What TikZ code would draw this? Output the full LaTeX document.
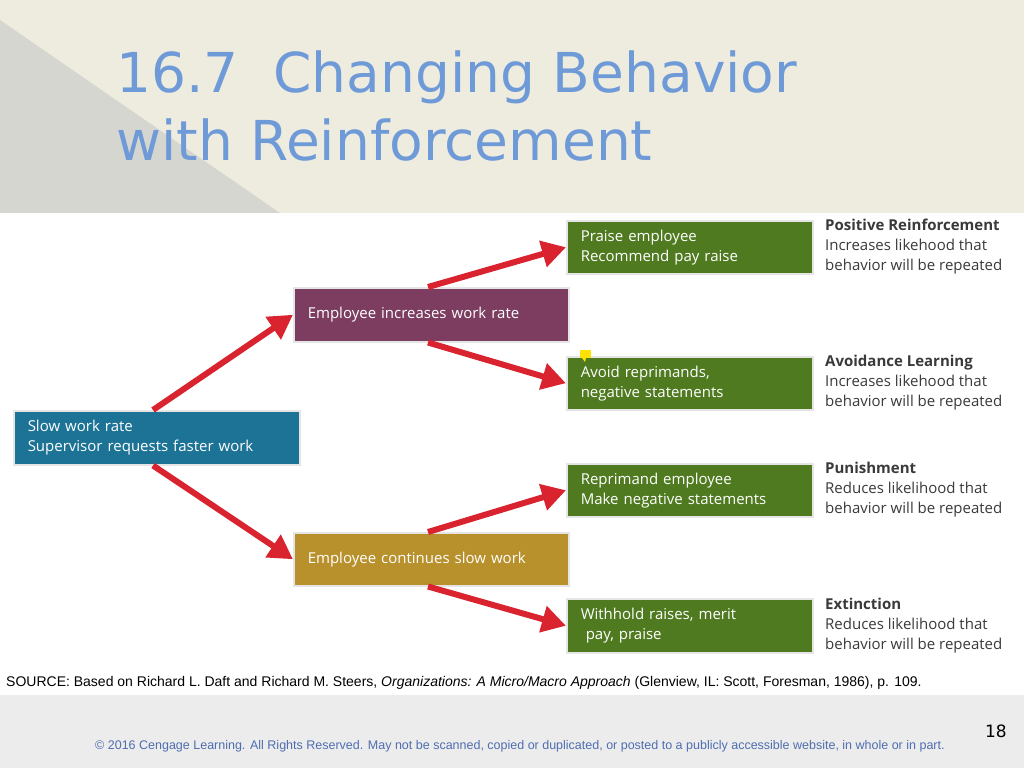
\documentclass[tikz,border=0pt]{standalone}
\usepackage{fontspec}
\setmainfont{Open Sans}
\newfontfamily\titlefont{DejaVu Sans}
\newfontfamily\footfont{Liberation Sans}
\usetikzlibrary{arrows.meta}
\definecolor{bg}{HTML}{EEECDF}
\definecolor{tri}{HTML}{D6D6D0}
\definecolor{titleblue}{HTML}{6F9AD8}
\definecolor{bluebox}{HTML}{1C7396}
\definecolor{purplebox}{HTML}{7C3D60}
\definecolor{goldbox}{HTML}{B8902C}
\definecolor{greenbox}{HTML}{4F7A20}
\definecolor{arrowred}{HTML}{D9232E}
\definecolor{labgray}{HTML}{3A3A3A}
\definecolor{footblue}{HTML}{4F6EB0}
\begin{document}
\begin{tikzpicture}[x=1pt,y=-1pt,
  box/.style={draw=white!80!gray,line width=1.5pt,text=white,anchor=north west,inner sep=0pt,inner xsep=14pt,font=\fontsize{15}{20}\selectfont,align=left},
  arr/.style={draw=arrowred,line width=6pt,-{Triangle[length=24pt,width=26pt]}},
  lab/.style={anchor=north west,align=left,text=labgray,font=\fontsize{15}{20}\selectfont,inner sep=0pt}]
\useasboundingbox (0,0) rectangle (1024,768);
\fill[bg] (0,0) rectangle (1024,768);
\fill[tri] (0,20) -- (0,213) -- (280,213) -- cycle;
\fill[gray!15] (0,695) rectangle (1024,768);
\fill[white] (0,213) rectangle (1024,695);
\node[anchor=north west,text=titleblue,font=\titlefont\fontsize{55}{68}\selectfont,align=left,inner sep=0pt] (title) at (116,51) {16.7\ \ Changing Behavior\\with Reinforcement};
% boxes
\node[box,fill=bluebox,minimum width=286pt,minimum height=54pt,text width=258pt] (slow) at (13,410) {Slow work rate\\Supervisor requests faster work};
\node[box,fill=purplebox,minimum width=275pt,minimum height=54pt,text width=247pt] (inc) at (293,287) {Employee increases work rate};
\node[box,fill=goldbox,minimum width=275pt,minimum height=53pt,text width=247pt] (cont) at (293,532) {Employee continues slow work};
\node[box,fill=greenbox,minimum width=246pt,minimum height=53pt,text width=218pt] (g1) at (566,220) {Praise employee\\Recommend pay raise};
\node[box,fill=greenbox,minimum width=246pt,minimum height=53pt,text width=218pt] (g2) at (566,356) {Avoid reprimands,\\negative statements};
\node[box,fill=greenbox,minimum width=246pt,minimum height=53pt,text width=218pt] (g3) at (566,463) {Reprimand employee\\Make negative statements};
\node[box,fill=greenbox,minimum width=246pt,minimum height=54pt,text width=218pt] (g4) at (566,598) {Withhold raises, merit\\\ pay, praise};
\fill[yellow!85!orange] (580,350) rectangle (591,358);
\fill[yellow!85!orange] (582,358) -- (585,362) -- (586,358) -- cycle;
% arrows
\draw[arr] (slow.north west) ++(140,0) coordinate (s1) -- (inc.west);
\draw[arr] (slow.south west) ++(140,0) coordinate (s2) -- (cont.west);
\draw[arr] (inc.north west) ++(135,0) coordinate (i1) -- (g1.west);
\draw[arr] (inc.south west) ++(135,0) coordinate (i2) -- (g2.west);
\draw[arr] (cont.north west) ++(135,0) coordinate (c1) -- (g3.west);
\draw[arr] (cont.south west) ++(135,0) coordinate (c2) -- (g4.west);
% labels
\node[lab] (l1) at (825,219) {\textbf{Positive Reinforcement}\\Increases likehood that\\behavior will be repeated};
\node[lab] (l2) at (825,355) {\textbf{Avoidance Learning}\\Increases likehood that\\behavior will be repeated};
\node[lab] (l3) at (825,462) {\textbf{Punishment}\\Reduces likelihood that\\behavior will be repeated};
\node[lab] (l4) at (825,598) {\textbf{Extinction}\\Reduces likelihood that\\behavior will be repeated};
\node[anchor=west,inner sep=0pt,font=\footfont\fontsize{14}{16}\selectfont,text=black] (src) at (6,683) {SOURCE: Based on Richard L. Daft and Richard M. Steers, \textit{Organizations: A Micro/Macro Approach} (Glenview, IL: Scott, Foresman, 1986), p. 109.};
\node[anchor=west,inner sep=0pt,font=\footfont\fontsize{12.5}{14}\selectfont,text=footblue] (copy) at (95,746) {© 2016 Cengage Learning. All Rights Reserved. May not be scanned, copied or duplicated, or posted to a publicly accessible website, in whole or in part.};
\node[anchor=east,inner sep=0pt,font=\titlefont\fontsize{17}{19}\selectfont] (num) at (1007,731) {18};
\end{tikzpicture}
\end{document}
